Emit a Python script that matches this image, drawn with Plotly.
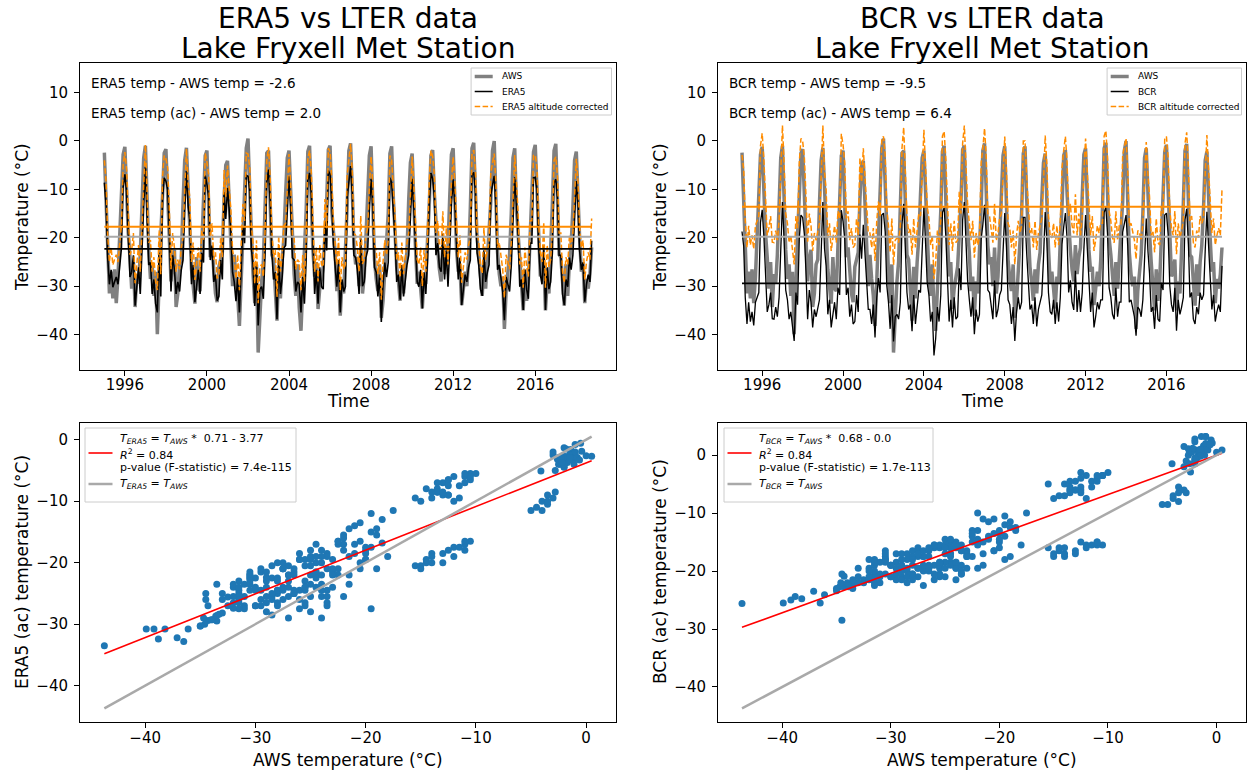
import pandas as pd
import plotly.graph_objects as go

# ------------------------------------------------------------------
# Monthly mean temperatures (deg C), Jan 1995 - Oct 2018
# one row per year, Jan..Dec
# ------------------------------------------------------------------
START_MONTH = "1995-01-01"

AWS_T = [
    [-2.4, -13.5, -23.0, -31.5, -27.0, -32.5, -26.5, -33.5, -28.0, -20.5, -12.0, -2.8],
    [-1.2, -11.0, -19.0, -24.0, -30.5, -25.0, -34.3, -27.5, -29.5, -23.5, -14.5, -3.5],
    [-1.0, -14.0, -22.5, -28.5, -25.5, -32.0, -27.0, -39.9, -26.0, -19.5, -11.5, -2.5],
    [-1.7, -10.5, -20.5, -29.0, -24.5, -22.5, -34.3, -31.5, -25.5, -24.5, -13.0, -4.0],
    [-1.4, -12.5, -17.5, -26.5, -29.5, -33.6, -24.0, -30.5, -31.0, -21.0, -15.5, -3.0],
    [-2.0, -13.0, -24.0, -22.0, -28.0, -31.5, -33.3, -26.0, -24.5, -23.0, -12.0, -5.0],
    [-4.1, -15.0, -21.0, -30.0, -23.5, -28.5, -32.0, -38.2, -27.5, -18.5, -10.5, -1.5],
    [0.5, -10.0, -19.5, -27.5, -33.5, -25.5, -43.7, -34.5, -29.0, -25.0, -14.0, -2.5],
    [-2.0, -13.5, -23.5, -24.5, -30.5, -37.1, -26.0, -32.5, -25.0, -20.0, -11.0, -3.5],
    [-2.0, -11.5, -20.0, -27.5, -32.0, -25.5, -34.5, -39.2, -30.5, -24.0, -14.5, -2.2],
    [-1.0, -12.5, -22.5, -28.0, -25.0, -34.7, -30.5, -28.5, -26.0, -19.5, -12.5, -1.8],
    [-1.0, -14.5, -18.5, -23.0, -31.0, -28.0, -36.1, -29.0, -31.5, -23.5, -13.5, -2.0],
    [-0.5, -10.5, -21.5, -25.5, -24.0, -30.0, -22.0, -31.5, -28.0, -20.0, -11.0, -3.0],
    [-1.1, -13.0, -24.5, -28.5, -31.0, -25.5, -36.5, -33.0, -27.0, -21.5, -15.0, -2.6],
    [-1.1, -12.0, -19.5, -26.0, -29.0, -33.0, -26.5, -31.5, -25.5, -23.0, -12.0, -4.5],
    [-2.6, -15.5, -22.0, -29.5, -27.0, -30.5, -34.6, -28.0, -29.5, -20.5, -13.5, -3.0],
    [-1.9, -11.0, -18.0, -22.5, -26.5, -29.0, -21.5, -27.5, -24.0, -22.0, -11.5, -2.8],
    [-1.5, -13.5, -22.5, -27.0, -26.0, -33.9, -29.5, -27.0, -30.0, -24.5, -14.0, -1.5],
    [-0.4, -10.5, -20.0, -23.5, -28.5, -32.0, -25.0, -30.5, -24.5, -19.0, -12.5, -2.0],
    [0.0, -12.5, -23.0, -27.5, -30.0, -28.0, -38.8, -31.0, -26.5, -23.5, -15.0, -3.5],
    [-1.5, -14.0, -19.0, -25.0, -31.5, -35.0, -26.5, -33.0, -29.0, -20.5, -11.0, -2.3],
    [-0.8, -11.0, -21.0, -28.0, -26.5, -24.5, -35.0, -29.0, -31.5, -24.0, -13.0, -2.0],
    [-0.6, -12.5, -23.5, -24.0, -30.0, -34.0, -25.5, -32.0, -25.0, -21.5, -14.0, -4.0],
    [-2.2, -13.0, -20.0, -27.0, -25.0, -33.5, -28.5, -30.5, -27.5, -22.0],
]

ERA5_AC_T = [
    [-4.0, -8.5, -19.5, -25.0, -22.0, -25.6, -24.5, -23.5, -25.0, -21.0, -17.5, -5.0],
    [-2.3, -6.0, -15.5, -23.5, -22.5, -19.0, -29.4, -26.0, -21.5, -27.0, -19.5, -9.0],
    [-0.8, -9.5, -21.0, -20.5, -27.0, -24.0, -29.0, -30.8, -18.5, -27.5, -7.5, -3.0],
    [-3.7, -5.5, -13.5, -26.5, -19.0, -22.0, -27.0, -24.5, -26.5, -22.0, -20.0, -10.0],
    [-1.6, -9.0, -11.5, -25.0, -21.0, -28.7, -25.5, -22.0, -27.0, -18.5, -20.5, -2.5],
    [-4.4, -7.0, -20.0, -17.0, -24.5, -23.0, -28.4, -27.5, -20.0, -24.0, -6.0, -11.5],
    [-5.1, -10.0, -14.0, -22.5, -24.5, -28.5, -23.5, -30.8, -21.0, -13.0, -16.5, -2.5],
    [-2.7, -5.5, -17.5, -21.0, -29.5, -20.5, -33.5, -26.0, -25.5, -28.0, -18.5, -4.0],
    [-1.3, -8.0, -18.5, -24.0, -22.5, -32.2, -19.5, -27.0, -23.5, -17.5, -17.0, -10.5],
    [-2.7, -9.5, -19.5, -20.0, -26.5, -24.5, -25.0, -30.8, -23.5, -29.0, -20.0, -3.5],
    [-2.0, -6.5, -17.0, -27.0, -22.0, -29.0, -21.5, -25.5, -26.0, -12.0, -18.0, -1.5],
    [-2.3, -8.0, -16.8, -21.5, -25.5, -20.0, -30.8, -24.0, -26.5, -25.5, -7.0, -4.0],
    [-0.6, -6.5, -19.0, -19.5, -22.0, -27.0, -15.5, -25.4, -24.5, -19.5, -18.0, -9.5],
    [-3.2, -9.0, -21.5, -22.5, -27.5, -23.0, -32.8, -25.0, -20.5, -23.5, -20.5, -3.0],
    [-4.0, -10.0, -15.0, -24.5, -23.0, -28.2, -21.0, -27.5, -24.0, -21.0, -19.0, -11.0],
    [-3.2, -9.5, -18.0, -24.5, -25.5, -22.0, -30.0, -22.5, -27.0, -20.0, -8.5, -2.0],
    [-3.2, -7.0, -19.0, -16.5, -21.5, -22.4, -14.5, -24.0, -18.0, -25.5, -17.5, -8.5],
    [-3.3, -8.5, -16.5, -24.0, -19.5, -29.3, -26.0, -23.0, -24.5, -21.5, -20.0, -2.5],
    [-1.9, -6.0, -18.5, -21.0, -26.0, -27.4, -18.0, -24.5, -22.5, -21.0, -6.5, -4.5],
    [-2.6, -9.0, -22.0, -21.0, -24.0, -26.5, -32.4, -23.5, -25.0, -26.5, -21.0, -10.0],
    [-2.9, -8.5, -14.5, -25.5, -24.0, -30.3, -22.0, -26.0, -28.0, -16.5, -16.5, -3.0],
    [-2.9, -5.5, -17.0, -23.0, -25.0, -17.0, -30.3, -21.5, -26.0, -24.5, -18.5, -4.0],
    [-3.3, -7.5, -19.0, -19.0, -27.0, -29.3, -24.0, -25.5, -19.5, -22.0, -19.0, -11.5],
    [-3.7, -8.5, -18.0, -22.0, -20.5, -28.6, -25.0, -23.0, -24.5, -16.0],
]

BCR_AC_T = [
    [-2.9, -6.0, -16.5, -22.0, -17.5, -21.5, -19.5, -22.3, -17.5, -16.5, -15.5, -1.0],
    [1.6, -4.0, -12.5, -19.5, -18.0, -15.5, -20.9, -21.0, -18.5, -20.5, -16.5, -6.5],
    [3.2, -5.0, -15.0, -17.0, -21.0, -19.5, -22.5, -25.5, -15.5, -18.0, -4.5, 0.5],
    [0.0, -3.5, -11.0, -21.0, -15.0, -17.5, -22.7, -19.0, -20.5, -18.5, -17.0, -7.5],
    [3.2, -6.5, -10.0, -20.0, -17.0, -22.7, -19.5, -17.5, -21.0, -14.5, -16.0, 1.5],
    [-0.8, -4.5, -16.0, -14.5, -20.5, -18.0, -22.0, -21.5, -16.0, -19.5, -3.5, -8.5],
    [-1.5, -7.5, -11.5, -19.0, -19.0, -22.0, -18.0, -24.8, -16.5, -12.5, -15.5, 0.5],
    [0.9, -3.0, -14.0, -17.5, -23.0, -16.0, -25.6, -20.5, -20.0, -21.0, -17.5, -1.5],
    [2.8, -6.0, -15.5, -19.0, -18.0, -23.5, -16.0, -22.0, -18.5, -15.0, -15.5, -5.5],
    [2.3, -5.5, -13.5, -16.0, -21.5, -19.5, -28.5, -25.0, -18.5, -21.5, -16.0, 1.0],
    [2.0, -4.0, -14.0, -21.5, -17.0, -22.7, -16.5, -21.0, -20.5, -10.5, -15.0, -0.5],
    [3.2, -7.0, -13.0, -17.0, -20.5, -16.5, -24.1, -19.0, -21.5, -20.0, -4.5, -1.5],
    [2.6, -3.5, -15.0, -15.5, -18.5, -21.0, -13.0, -20.6, -19.0, -16.0, -15.0, -6.0],
    [0.9, -6.0, -17.0, -18.0, -22.0, -18.5, -25.5, -19.5, -16.5, -19.0, -17.5, 0.0],
    [0.0, -7.5, -12.0, -19.0, -18.0, -22.0, -16.5, -22.5, -19.0, -17.5, -16.0, -8.5],
    [1.1, -5.0, -15.5, -19.5, -20.0, -17.0, -22.0, -17.5, -21.5, -16.5, -5.5, -2.0],
    [0.9, -4.5, -15.5, -13.0, -17.5, -19.1, -11.0, -19.5, -15.0, -19.5, -15.5, -6.5],
    [0.5, -6.5, -13.5, -19.5, -15.5, -22.7, -20.5, -17.5, -19.0, -17.0, -17.0, 1.0],
    [2.1, -3.5, -14.5, -16.5, -20.0, -21.0, -14.5, -20.5, -17.5, -17.5, -3.0, -1.0],
    [0.5, -6.0, -17.5, -17.0, -19.0, -20.5, -24.4, -18.5, -19.0, -20.5, -17.0, -8.0],
    [-0.2, -7.0, -11.5, -19.5, -18.5, -23.0, -16.0, -21.0, -21.5, -13.5, -15.0, 0.5],
    [0.9, -3.5, -14.0, -18.0, -19.5, -14.5, -23.4, -17.0, -20.0, -18.5, -16.5, -0.5],
    [1.8, -5.5, -16.5, -15.5, -21.0, -22.0, -18.5, -20.0, -15.5, -17.0, -16.0, -7.0],
    [1.2, -6.0, -13.0, -19.0, -16.0, -21.5, -19.5, -18.0, -19.5, -10.0],
]

# altitude (lapse-rate) correction applied to the raw model series
ERA5_ALT_OFFSET = 4.6
BCR_ALT_OFFSET = 15.8

# period means (horizontal lines) and mean differences quoted in the panels
AWS_MEAN = -19.8
ERA5_MEAN = -22.3
ERA5_AC_MEAN = -17.7
BCR_MEAN = -29.4
BCR_AC_MEAN = -13.6
ERA5_DIFF, ERA5_AC_DIFF = -2.6, 2.0
BCR_DIFF, BCR_AC_DIFF = -9.5, 6.4

# regression results (slope, intercept, intercept text, R2, p-value text)
ERA5_FIT = (0.71, -3.77, "3.77", 0.84, "7.4e-115")
BCR_FIT = (0.68, -0.0, "0.0", 0.84, "1.7e-113")

TIME_TICKS = [1996, 2000, 2004, 2008, 2012, 2016]
TEMP_TICKS = [10, 0, -10, -20, -30, -40]
SCAT_TICKS = [0, -10, -20, -30, -40]

# ------------------------------------------------------------------
aws = [v for row in AWS_T for v in row]
era5_ac = [v for row in ERA5_AC_T for v in row]
bcr_ac = [v for row in BCR_AC_T for v in row]
era5 = [v - ERA5_ALT_OFFSET for v in era5_ac]
bcr = [v - BCR_ALT_OFFSET for v in bcr_ac]
dates = pd.date_range(START_MONTH, periods=len(aws), freq="MS")

W, H = 1250, 773
FONT = "DejaVu Sans"
GRAY = "#808080"
LGRAY = "#a9a9a9"
ORANGE = "#ff8c00"
BLUE = "#1f77b4"
DASH = "5.5px,2.4px"


def px(x):
    return x / W


def py(y):
    return 1 - y / H


L0, L1 = 80, 616
R0, R1 = 718, 1246
LEFT = [px(L0), px(L1)]
RIGHT = [px(R0), px(R1)]
TOP = [py(370), py(63)]
BOT = [py(722), py(423)]

fig = go.Figure()


def add_timeseries(xa, ya, model, model_ac, mean_m, mean_ac, lw_model):
    fig.add_trace(go.Scatter(x=dates, y=aws, mode="lines",
                             line=dict(color=GRAY, width=3.5), xaxis=xa, yaxis=ya))
    fig.add_trace(go.Scatter(x=dates, y=model, mode="lines",
                             line=dict(color="black", width=lw_model), xaxis=xa, yaxis=ya))
    fig.add_trace(go.Scatter(x=dates, y=model_ac, mode="lines",
                             line=dict(color=ORANGE, width=1.5, dash=DASH),
                             xaxis=xa, yaxis=ya))
    ends = [dates[0], dates[-1]]
    for val, col, w in [(mean_ac, ORANGE, 2.0), (AWS_MEAN, LGRAY, 2.0), (mean_m, "black", 1.8)]:
        fig.add_trace(go.Scatter(x=ends, y=[val, val], mode="lines",
                                 line=dict(color=col, width=w), xaxis=xa, yaxis=ya))


add_timeseries("x", "y", era5, era5_ac, ERA5_MEAN, ERA5_AC_MEAN, 1.6)
add_timeseries("x2", "y2", bcr, bcr_ac, BCR_MEAN, BCR_AC_MEAN, 1.3)


def add_scatter(xa, ya, yvals, fit):
    slope, icpt = fit[0], fit[1]
    fig.add_trace(go.Scatter(x=aws, y=yvals, mode="markers",
                             marker=dict(color=BLUE, size=7, line=dict(width=0)),
                             xaxis=xa, yaxis=ya))
    xs = [min(aws), max(aws)]
    fig.add_trace(go.Scatter(x=xs, y=[slope * v + icpt for v in xs], mode="lines",
                             line=dict(color="red", width=1.6), xaxis=xa, yaxis=ya))
    fig.add_trace(go.Scatter(x=xs, y=xs, mode="lines",
                             line=dict(color=LGRAY, width=2.5), xaxis=xa, yaxis=ya))


add_scatter("x3", "y3", era5_ac, ERA5_FIT)
add_scatter("x4", "y4", bcr_ac, BCR_FIT)


def margin5(lo, hi):
    d = (hi - lo) * 0.05
    return [lo - d, hi + d]


t0, t1 = dates[0], dates[-1]
span = (t1 - t0) * 0.05
trange = [t0 - span, t1 + span]

sx = margin5(min(aws), max(aws))
sy3 = margin5(min(min(era5_ac), min(aws)), max(max(era5_ac), max(aws)))
sy4 = margin5(min(min(bcr_ac), min(aws)), max(max(bcr_ac), max(aws)))

axis_common = dict(showgrid=False, zeroline=False, showline=True, mirror=True,
                   linecolor="black", linewidth=1, ticks="outside", ticklen=5,
                   tickwidth=1, tickcolor="black",
                   tickfont=dict(family=FONT, size=15, color="black"))


def time_axis(domain, anchor):
    return dict(axis_common, domain=domain, anchor=anchor, type="date", range=trange,
                tickvals=[f"{y}-01-01" for y in TIME_TICKS],
                ticktext=[str(y) for y in TIME_TICKS], ticklabelstandoff=-4)


def temp_axis(domain, anchor, rng, ticks):
    return dict(axis_common, domain=domain, anchor=anchor, range=rng, tickvals=ticks,
                ticklabelstandoff=3)


def val_axis(domain, anchor, rng, ticks):
    return dict(axis_common, domain=domain, anchor=anchor, range=rng, tickvals=ticks,
                ticklabelstandoff=-3)


fig.update_layout(
    width=W, height=H, margin=dict(l=0, r=0, t=0, b=0),
    paper_bgcolor="white", plot_bgcolor="white",
    font=dict(family=FONT, color="black"),
    showlegend=False, hovermode=False,
    xaxis=time_axis(LEFT, "y"),
    yaxis=temp_axis(TOP, "x", [-47.3, 16.1], TEMP_TICKS),
    xaxis2=time_axis(RIGHT, "y2"),
    yaxis2=temp_axis(TOP, "x2", [-47.3, 16.1], TEMP_TICKS),
    xaxis3=val_axis(LEFT, "y3", sx, SCAT_TICKS),
    yaxis3=temp_axis(BOT, "x3", sy3, SCAT_TICKS),
    xaxis4=val_axis(RIGHT, "y4", sx, SCAT_TICKS),
    yaxis4=temp_axis(BOT, "x4", sy4, SCAT_TICKS),
)

ann = []
shapes = []


def text(x, y, s, size, angle=0, xanchor="center"):
    ann.append(dict(x=px(x), y=py(y), xref="paper", yref="paper", text=s, showarrow=False,
                    xanchor=xanchor, yanchor="middle", textangle=angle,
                    font=dict(family=FONT, size=size, color="black")))


def box(x0, y0, x1, y1):
    shapes.append(dict(type="rect", xref="paper", yref="paper",
                       x0=px(x0), x1=px(x1), y0=py(y1), y1=py(y0),
                       fillcolor="rgba(255,255,255,0.8)",
                       line=dict(color="#cccccc", width=1), layer="above"))


def handle(x0, x1, y, color, width, dash="solid"):
    shapes.append(dict(type="line", xref="paper", yref="paper",
                       x0=px(x0), x1=px(x1), y0=py(y), y1=py(y),
                       line=dict(color=color, width=width, dash=dash), layer="above"))


# --- legends of the time-series panels (matplotlib-style boxes) ---
def ts_legend(right, model):
    label3 = f"{model} altitude corrected"
    width = 32.4 + (108 if model == "ERA5" else 102)
    x0 = right - width
    box(x0, 68, right, 115)
    entries = [("AWS", GRAY, 3.5, "solid"), (model, "black", 1.5, "solid"),
               (label3, ORANGE, 1.5, DASH)]
    for i, (lab, col, w, d) in enumerate(entries):
        y = 76.5 + 15 * i
        handle(x0 + 3.6, x0 + 21.6, y, col, w, d)
        text(x0 + 29, y, lab, 9, xanchor="left")


ts_legend(L1 - 4.5, "ERA5")
ts_legend(R1 - 4.5, "BCR")


# --- legends of the scatter panels ---
def sc_legend(x0, sub, fit):
    slope, icpt, icpt_txt, r2, pval = fit
    tl = f"<i>T<sub>{sub}</sub></i> = <i>T<sub>AWS</sub></i>"
    box(x0, 428, x0 + (211 if sub == "ERA5" else 209), 502)
    handle(x0 + 3.5, x0 + 27.5, 453, "red", 1.6)
    text(x0 + 33, 439, f"{tl} *  {slope:.2f} - {icpt_txt}", 11, xanchor="left")
    text(x0 + 33, 454, f"<i>R</i><sup>2</sup> = {r2:.2f}", 11, xanchor="left")
    text(x0 + 33, 468, f"p-value (F-statistic) = {pval}", 11, xanchor="left")
    handle(x0 + 3.5, x0 + 27.5, 484, LGRAY, 2.5)
    text(x0 + 33, 484, tl, 11, xanchor="left")


sc_legend(85, "ERA5", ERA5_FIT)
sc_legend(724, "BCR", BCR_FIT)

# --- titles, panel notes, axis titles ---
cl = (L0 + L1) / 2
cr = (R0 + R1) / 2
text(cl, 19, "ERA5 vs LTER data", 28)
text(cl, 49, "Lake Fryxell Met Station", 28)
text(cr, 19, "BCR vs LTER data", 28)
text(cr, 49, "Lake Fryxell Met Station", 28)

text(89, 83, f"ERA5 temp - AWS temp = {ERA5_DIFF}", 13.5, xanchor="left")
text(89, 113, f"ERA5 temp (ac) - AWS temp = {ERA5_AC_DIFF}", 13.5, xanchor="left")
text(727, 83, f"BCR temp - AWS temp = {BCR_DIFF}", 13.5, xanchor="left")
text(727, 113, f"BCR temp (ac) - AWS temp = {BCR_AC_DIFF}", 13.5, xanchor="left")

text(cl, 401, "Time", 17)
text(cr, 401, "Time", 17)
text(22, 217, "Temperature (°C)", 17, angle=-90)
text(660, 217, "Temperature (°C)", 17, angle=-90)
text(cl, 760, "AWS temperature (°C)", 17)
text(cr, 760, "AWS temperature (°C)", 17)
text(22, 572, "ERA5 (ac) temperature (°C)", 17, angle=-90)
text(660, 572, "BCR (ac) temperature (°C)", 17, angle=-90)

fig.update_layout(annotations=ann, shapes=shapes)
fig.write_html("out.html",
               config={"displayModeBar": False, "staticPlot": True},
               post_script="document.body.style.margin='0';"
                           "document.body.style.overflow='hidden';")
